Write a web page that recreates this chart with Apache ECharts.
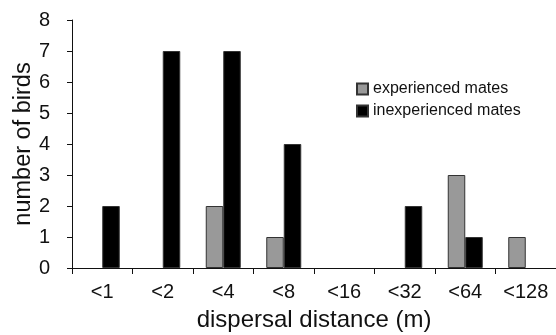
<!DOCTYPE html>
<html>
<head>
<meta charset="utf-8">
<script src="https://cdn.jsdelivr.net/npm/echarts@6/dist/echarts.min.js"></script>
<style>
html, body { margin: 0; padding: 0; background: #fff; }
#chart { width: 556px; height: 335px; }
</style>
</head>
<body>
<div id="chart"></div>
<script>
var categories = ["<1", "<2", "<4", "<8", "<16", "<32", "<64", "<128"];
var experienced = [0, 0, 2, 1, 0, 0, 3, 1];
var inexperienced = [2, 7, 7, 4, 0, 2, 1, 0];
var yTicks = [0, 1, 2, 3, 4, 5, 6, 7, 8];

var font = "'Liberation Sans', Arial, Helvetica, sans-serif";

// zero-height bars are not drawn in the original figure
var hideZero = function(arr){
	return arr.map(function(v){ return v === 0 ? null : v; });
};

var chart = echarts.init(document.getElementById('chart'));

var option = {
	animation: false,
	textStyle: { fontFamily: font },
	grid: { left: 72, right: 0, top: 20, bottom: 67, containLabel: false, outerBoundsMode: 'none' },
	legend: {
		orient: 'vertical',
		left: 356,
		top: 81,
		padding: 0,
		itemWidth: 11,
		itemHeight: 11,
		itemGap: 6,
		icon: 'rect',
		textStyle: { fontFamily: font, fontSize: 16, color: '#111' },
		data: ['experienced mates', 'inexperienced mates']
	},
	xAxis: {
		type: 'category',
		data: categories,
		name: 'dispersal distance (m)',
		nameLocation: 'middle',
		nameGap: 40,
		nameMoveOverlap: false,
		nameTextStyle: { fontFamily: font, fontSize: 24, color: '#111' },
		axisLine: { lineStyle: { color: '#111', width: 1 } },
		axisTick: { show: true, length: 6, lineStyle: { color: '#111' } },
		axisLabel: { fontFamily: font, fontSize: 20, color: '#111', margin: 14 },
		splitLine: { show: false }
	},
	yAxis: {
		type: 'value',
		min: yTicks[0],
		max: yTicks[yTicks.length - 1],
		interval: 1,
		name: 'number of birds',
		nameLocation: 'middle',
		nameGap: 36,
		nameMoveOverlap: false,
		nameTextStyle: { fontFamily: font, fontSize: 23.5, color: '#111' },
		axisLine: { show: true, lineStyle: { color: '#111', width: 1 } },
		axisTick: { show: true, length: 5, lineStyle: { color: '#111' } },
		axisLabel: { fontFamily: font, fontSize: 20, color: '#111', margin: 22 },
		splitLine: { show: false }
	},
	series: [
		{
			name: 'experienced mates',
			type: 'bar',
			data: hideZero(experienced),
			barWidth: 17.5,
			barGap: '0%',
			itemStyle: { color: '#999999', borderColor: '#333', borderWidth: 1 }
		},
		{
			name: 'inexperienced mates',
			type: 'bar',
			data: hideZero(inexperienced),
			barWidth: 17.5,
			barGap: '0%',
			itemStyle: { color: '#000000', borderColor: '#333', borderWidth: 1 }
		}
	]
};

chart.setOption(option);
</script>
</body>
</html>
